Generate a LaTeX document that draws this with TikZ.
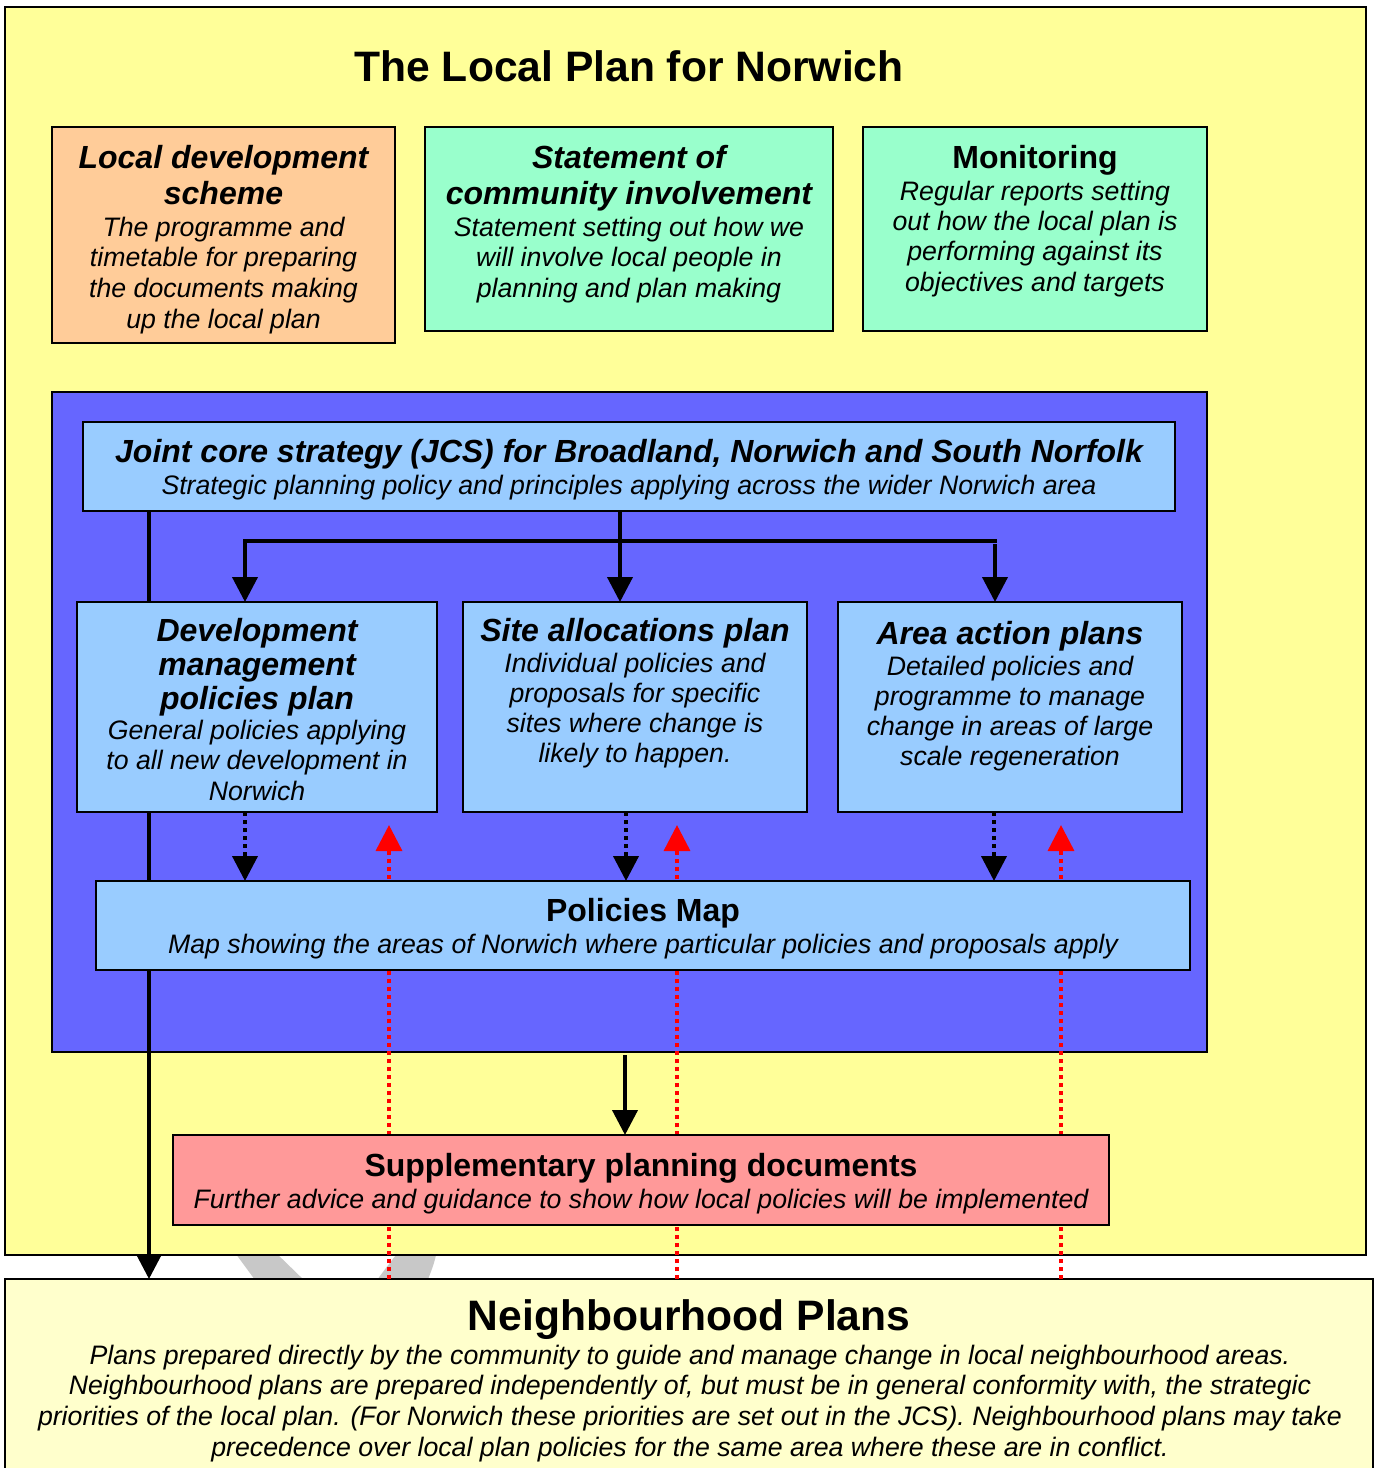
\documentclass[tikz,border=0pt]{standalone}
\usepackage{fontspec}
\setmainfont{Liberation Sans}
\usetikzlibrary{arrows.meta,calc}
\definecolor{frameY}{HTML}{FFFF99}
\definecolor{npY}{HTML}{FFFFCC}
\definecolor{ldsC}{HTML}{FFCC99}
\definecolor{greenC}{HTML}{99FFCC}
\definecolor{blueC}{HTML}{6666FF}
\definecolor{lblueC}{HTML}{99CCFF}
\definecolor{spdC}{HTML}{FF9999}
\definecolor{grayC}{HTML}{C8C8C8}
\definecolor{redC}{HTML}{FF0000}
\pgfdeclarelayer{bg}
\pgfdeclarelayer{mid}
\pgfsetlayers{bg,mid,main}
\begin{document}
\begin{tikzpicture}[x=1pt,y=-1pt,
  box/.style={draw=black,line width=2pt,inner sep=0pt,outer sep=0pt,anchor=north west},
  ttl/.style={font=\bfseries\itshape\fontsize{32}{36}\selectfont,align=center,inner sep=0pt,anchor=north},
  ttlup/.style={font=\bfseries\fontsize{32}{36}\selectfont,align=center,inner sep=0pt,anchor=north},
  bodytxt/.style={font=\itshape\fontsize{26.7}{30.7}\selectfont,align=center,inner sep=0pt,anchor=north},
  conn/.style={line width=4pt,-{Triangle[width=25pt,length=25pt]}},
  plainline/.style={line width=4pt},
  dotconn/.style={line width=4pt,dash pattern=on 4pt off 4pt,-{Triangle[width=25pt,length=25pt]}},
  reddot/.style={draw=redC,line width=3.5pt,dash pattern=on 4pt off 4pt,-{Triangle[width=26pt,length=26pt]},color=redC}
]
\useasboundingbox (0,0) rectangle (1374,1468);

% ---------- background layer ----------
\begin{pgfonlayer}{bg}
  \fill[white] (0,0) rectangle (1374,1468);
  \fill[grayC] (233,1250) -- (273,1250) -- (308,1284) -- (258,1284) -- cycle;
  \fill[grayC] (400,1250) -- (437,1250) .. controls (435,1262) and (431,1272) .. (426,1284)
     -- (374,1284) .. controls (383,1272) and (391,1261) .. (400,1250) -- cycle;
  \node[box,fill=frameY,minimum width=1361pt,minimum height=1248pt] (frame) at (5,7) {};
  \node[box,fill=npY,minimum width=1368pt,minimum height=220pt] (np) at (5,1279) {};
  \node[box,fill=blueC,minimum width=1155pt,minimum height=660pt] (blue) at (52,392) {};
\end{pgfonlayer}

% ---------- title ----------
\node[font=\bfseries\fontsize{42.6}{48}\selectfont,inner sep=0pt,anchor=north] (title) at (629,50) {The Local Plan for Norwich};

% ---------- top boxes ----------
\node[box,fill=ldsC,minimum width=343pt,minimum height=216pt] (lds) at (52,127) {};
\node[ttl] (ldsT) at ([yshift=-18.5pt]lds.north) {Local development\\scheme};
\node[bodytxt] (ldsB) at ([yshift=-89.5pt]lds.north) {The programme and\\timetable for preparing\\the documents making\\up the local plan};

\node[box,fill=greenC,minimum width=408pt,minimum height=204pt] (sci) at (425,127) {};
\node[ttl] (sciT) at ([yshift=-18.5pt]sci.north) {Statement of\\community involvement};
\node[bodytxt] (sciB) at ([yshift=-89.5pt]sci.north) {Statement setting out how we\\will involve local people in\\planning and plan making};

\node[box,fill=greenC,minimum width=344pt,minimum height=204pt] (mon) at (863,127) {};
\node[ttlup] (monT) at ([yshift=-18.5pt]mon.north) {Monitoring};
\node[bodytxt,font=\itshape\fontsize{26.7}{30.4}\selectfont] (monB) at ([yshift=-53.5pt]mon.north) {Regular reports setting\\out how the local plan is\\performing against its\\objectives and targets};

% ---------- inner boxes ----------
\node[box,fill=lblueC,minimum width=1092pt,minimum height=89pt] (jcs) at (83,422) {};
\node[ttl] (jcsT) at ([yshift=-17.5pt]jcs.north) {Joint core strategy (JCS) for Broadland, Norwich and South Norfolk};
\node[bodytxt] (jcsB) at ([yshift=-52.5pt]jcs.north) {Strategic planning policy and principles applying across the wider Norwich area};

\node[box,fill=lblueC,minimum width=360pt,minimum height=210pt] (dm) at (77,602) {};
\node[ttl,font=\bfseries\itshape\fontsize{32}{34}\selectfont] (dmT) at ([yshift=-16.5pt]dm.north) {Development\\management\\policies plan};
\node[bodytxt,font=\itshape\fontsize{26.7}{30.5}\selectfont] (dmB) at ([yshift=-117.5pt]dm.north) {General policies applying\\to all new development in\\Norwich};

\node[box,fill=lblueC,minimum width=344pt,minimum height=210pt] (sa) at (463,602) {};
\node[ttl] (saT) at ([yshift=-16.5pt]sa.north) {Site allocations plan};
\node[bodytxt,font=\itshape\fontsize{26.7}{30.3}\selectfont] (saB) at ([yshift=-50.5pt]sa.north) {Individual policies and\\proposals for specific\\sites where change is\\likely to happen.};

\node[box,fill=lblueC,minimum width=344pt,minimum height=210pt] (aap) at (838,602) {};
\node[ttl] (aapT) at ([yshift=-19.5pt]aap.north) {Area action plans};
\node[bodytxt,font=\itshape\fontsize{26.7}{30.3}\selectfont] (aapB) at ([yshift=-53.5pt]aap.north) {Detailed policies and\\programme to manage\\change in areas of large\\scale regeneration};

\node[box,fill=lblueC,minimum width=1094pt,minimum height=89pt] (pm) at (96,881) {};
\node[ttlup] (pmT) at ([yshift=-17.5pt]pm.north) {Policies Map};
\node[bodytxt] (pmB) at ([yshift=-52.5pt]pm.north) {Map showing the areas of Norwich where particular policies and proposals apply};

\node[box,fill=spdC,minimum width=936pt,minimum height=90pt] (spd) at (173,1135) {};
\node[ttlup] (spdT) at ([yshift=-18.5pt]spd.north) {Supplementary planning documents};
\node[bodytxt] (spdB) at ([yshift=-53.5pt]spd.north) {Further advice and guidance to show how local policies will be implemented};

% ---------- neighbourhood text ----------
\node[font=\bfseries\fontsize{42.6}{48}\selectfont,inner sep=0pt,anchor=north] (npT) at ([yshift=-20pt]np.north) {Neighbourhood Plans};
\node[bodytxt] (npB) at (690,1344.5) {Plans prepared directly by the community to guide and manage change in local neighbourhood areas.\\Neighbourhood plans are prepared independently of, but must be in general conformity with, the strategic\\priorities of the local plan. (For Norwich these priorities are set out in the JCS). Neighbourhood plans may take\\precedence over local plan policies for the same area where these are in conflict.};

% ---------- coordinates ----------
\coordinate (lx) at (149,0);
\coordinate (cx) at (620,0);
\coordinate (bl) at (245,541);
\coordinate (br) at (995,541);
\coordinate (d1) at (245,0);
\coordinate (d2) at (626,0);
\coordinate (d3) at (994,0);
\coordinate (r1) at (389,825);
\coordinate (r2) at (677,825);
\coordinate (r3) at (1061,825);
\coordinate (sx) at (625,1055);

% ---------- connectors behind boxes ----------
\begin{pgfonlayer}{mid}
  \draw[conn] (jcs.south -| lx) -- (np.north -| lx);
  \draw[reddot] (np.north -| r1) -- (r1);
  \draw[reddot] (np.north -| r2) -- (r2);
  \draw[reddot] (np.north -| r3) -- (r3);
\end{pgfonlayer}

% ---------- connectors on top ----------
\draw[plainline] ([xshift=-2pt]bl) -- ([xshift=2pt]br);
\draw[conn] (jcs.south -| cx) -- (sa.north -| cx);
\draw[conn] ([yshift=2pt]bl) -- (dm.north -| bl);
\draw[conn] ([yshift=-3pt]br) -- (aap.north -| br);
\draw[dotconn] (dm.south -| d1) -- (pm.north -| d1);
\draw[dotconn] (sa.south -| d2) -- (pm.north -| d2);
\draw[dotconn] (aap.south -| d3) -- (pm.north -| d3);
\draw[conn] (sx) -- (spd.north -| sx);
\end{tikzpicture}
\end{document}
